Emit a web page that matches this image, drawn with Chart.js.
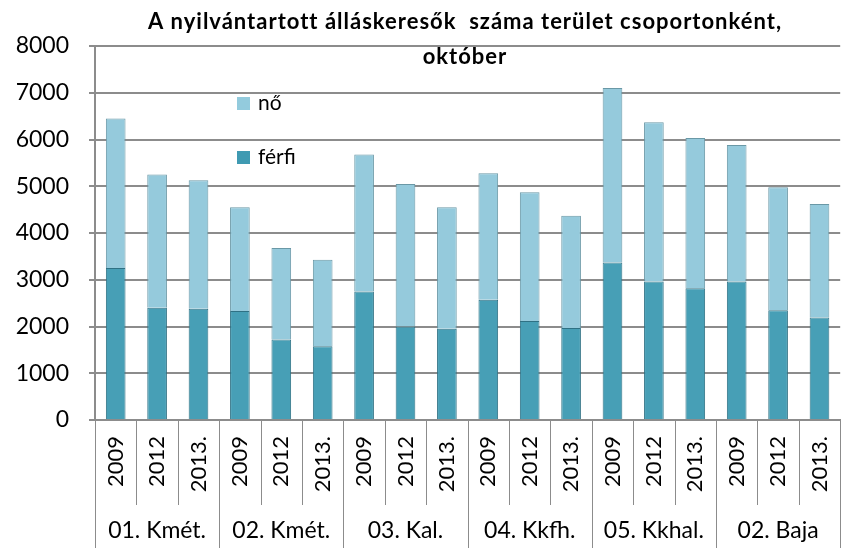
<!DOCTYPE html>
<html>
<head>
<meta charset="utf-8">
<script src="https://cdn.jsdelivr.net/npm/chart.js@4.4.0/dist/chart.umd.min.js"></script>
<style>
  html, body { margin: 0; padding: 0; background: #fff; }
  #wrap { width: 854px; height: 548px; }
</style>
</head>
<body>
<div id="wrap"><canvas id="jobChart"></canvas></div>
<script>
// data
const groups = ['01. Kmét.', '02. Kmét.', '03. Kal.', '04. Kkfh.', '05. Kkhal.', '02. Baja'];
const years = ['2009', '2012', '2013.'];
const labels = groups.flatMap(() => years);
const ferfi = [3250, 2400, 2380, 2330, 1720, 1580, 2750, 2000, 1950, 2570, 2120, 1970, 3370, 2960, 2820, 2960, 2350, 2190];
const no = [3200, 2850, 2750, 2220, 1960, 1850, 2930, 3050, 2600, 2710, 2750, 2400, 3730, 3410, 3210, 2920, 2630, 2430];
const titleLines = ['A nyilvántartott álláskeresők  száma terület csoportonként,', 'október'];

const fontFamily = 'Lato, "Open Sans", sans-serif';

// title, inside legend and the two-level category axis
const extras = {
    id: 'extras',
    afterDraw(chart) {
        const ctx = chart.ctx;
        const x = chart.scales.x;
        const area = chart.chartArea;
        const step = x.getPixelForValue(1) - x.getPixelForValue(0);
        ctx.save();

        // separators under the axis
        ctx.strokeStyle = '#8c8c8c';
        ctx.lineWidth = 1;
        for (let i = 0; i <= labels.length; i++) {
            const px = Math.round(x.getPixelForValue(i) - step / 2) + 0.5;
            const isGroup = i % years.length === 0;
            ctx.beginPath();
            ctx.moveTo(px, area.bottom);
            ctx.lineTo(px, isGroup ? 548 : 505);
            ctx.stroke();
        }

        // group names
        ctx.fillStyle = '#000';
        ctx.font = '23px ' + fontFamily;
        ctx.textAlign = 'center';
        ctx.textBaseline = 'middle';
        groups.forEach((g, gi) => {
            const cx = x.getPixelForValue(gi * 3 + 1);
            ctx.fillText(g, cx, 531);
        });

        // legend
        const items = [
            { text: 'nő', color: '#93cbdd', y: 103 },
            { text: 'férfi', color: '#3f9ab2', y: 157 }
        ];
        ctx.textAlign = 'left';
        ctx.font = '21px ' + fontFamily;
        items.forEach(it => {
            ctx.fillStyle = it.color;
            ctx.fillRect(237, it.y - 6, 13, 13);
            ctx.fillStyle = '#000';
            ctx.fillText(it.text, 258, it.y);
        });

        // title
        ctx.textAlign = 'center';
        ctx.font = 'bold 22px ' + fontFamily;
        ctx.letterSpacing = '1px';
        ctx.fillText(titleLines[0], 465, 22);
        ctx.fillText(titleLines[1], 465, 57);
        ctx.restore();
    }
};

const ctx = document.getElementById('jobChart').getContext('2d');
const jobChart = new Chart(ctx, {
    type: 'bar',
    data: {
        labels: labels,
        datasets: [{
            label: 'férfi',
            data: ferfi,
            backgroundColor: '#479fb6',
            borderColor: '#2f7184',
            borderWidth: 1,
            barPercentage: 0.95,
            categoryPercentage: 0.5
        }, {
            label: 'nő',
            data: no,
            backgroundColor: '#95cadc',
            borderColor: '#6a98a6',
            borderWidth: 1,
            barPercentage: 0.95,
            categoryPercentage: 0.5
        }]
    },
    options: {
        responsive: true,
        maintainAspectRatio: false,
        animation: false,
        layout: { padding: { top: 46, right: 4, left: 0, bottom: 0 } },
        plugins: {
            legend: { display: false },
            title: { display: false },
            tooltip: { enabled: false }
        },
        scales: {
            x: {
                stacked: true,
                afterFit(scale) { scale.height = 128; },
                grid: { display: false },
                border: { color: '#8c8c8c', width: 2 },
                ticks: {
                    color: '#000',
                    font: { family: fontFamily, size: 22 },
                    minRotation: 90,
                    maxRotation: 90,
                    padding: 8,
                    autoSkip: false
                }
            },
            y: {
                stacked: true,
                min: 0,
                max: 8000,
                afterFit(scale) { scale.width = 95; },
                grid: { color: '#8c8c8c', lineWidth: 2, tickLength: 6 },
                border: { color: '#8c8c8c', width: 2 },
                ticks: {
                    stepSize: 1000,
                    color: '#000',
                    padding: 20,
                    font: { family: fontFamily, size: 23 },
                    callback: v => String(v)
                }
            }
        }
    },
    plugins: [extras]
});
</script>
</body>
</html>
